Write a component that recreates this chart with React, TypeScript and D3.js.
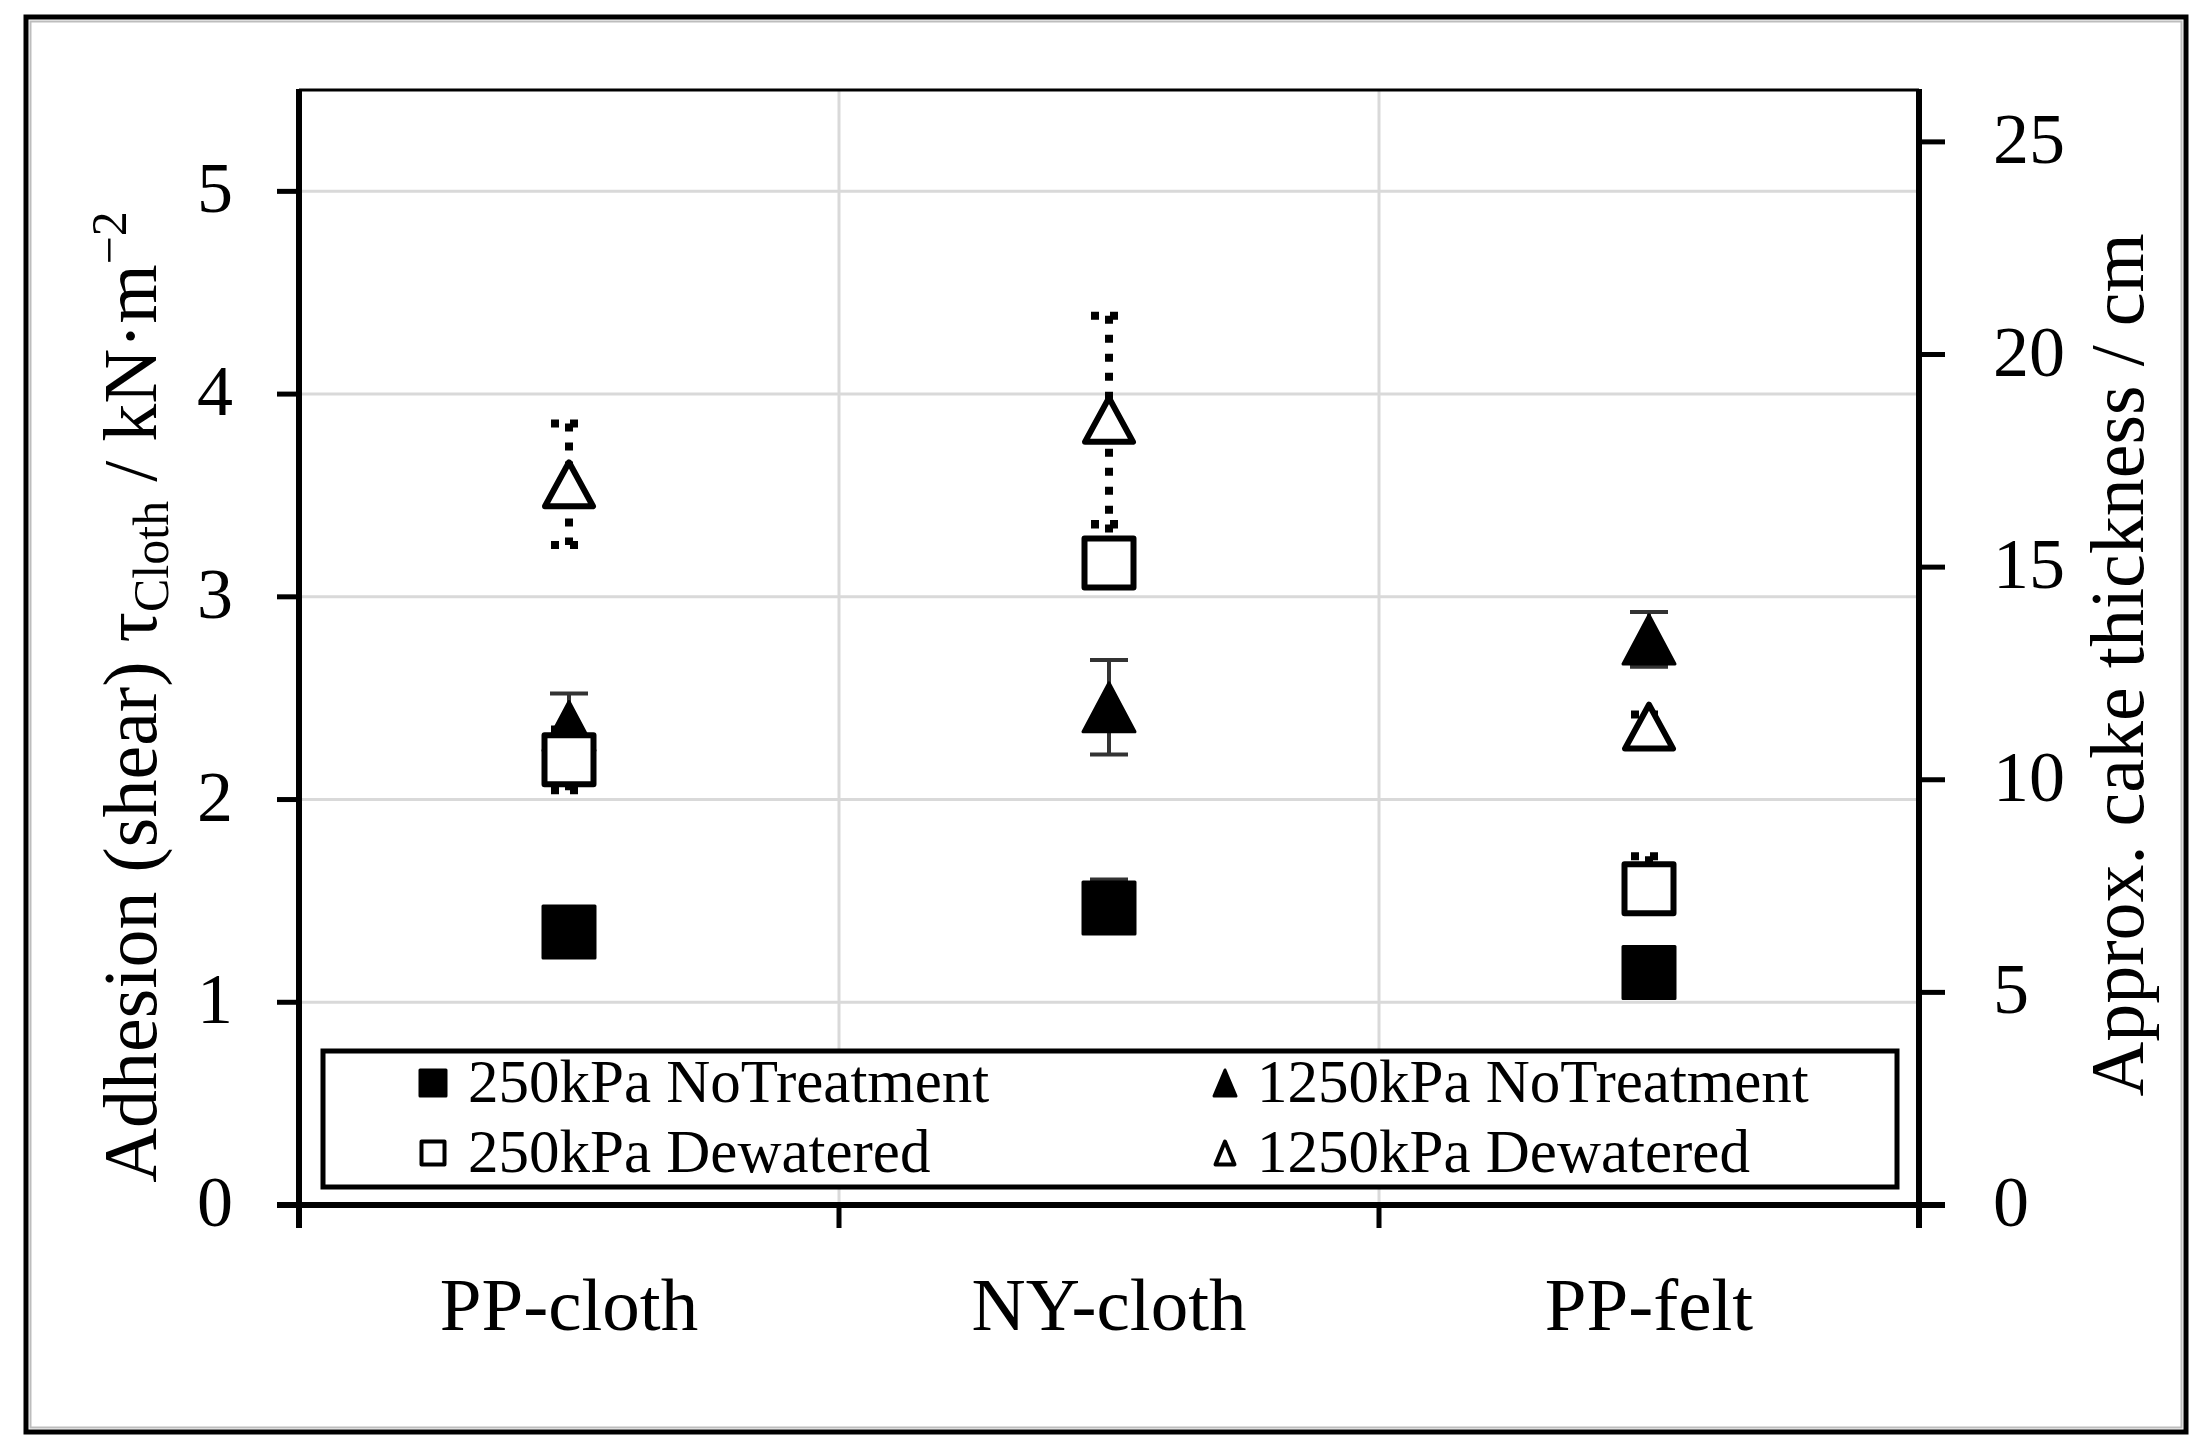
import React from 'react';
import * as d3 from 'd3';

const categories = ['PP-cloth', 'NY-cloth', 'PP-felt'];
const seriesNames = ['250kPa NoTreatment', '1250kPa NoTreatment', '250kPa Dewatered', '1250kPa Dewatered'];

const noTreat250 = [1.347, 1.465, 1.147];
const noTreat250ErrPlus = [0.08, 0.14, 0.06];
const noTreat250ErrMinus = [0.08, 0.08, 0.06];
const noTreat1250 = [2.363, 2.455, 2.79];
const noTreat1250ErrPlus = [0.16, 0.233, 0.135];
const noTreat1250ErrMinus = [0.16, 0.233, 0.135];
const dewatered250 = [2.196, 3.167, 1.56];
const dewatered250ErrPlus = [0.15, 0.19, 0.16];
const dewatered250ErrMinus = [0.15, 0.1, 0.1];
const dewatered1250 = [3.555, 3.873, 2.36];
const dewatered1250ErrPlus = [0.3, 0.514, 0.06];
const dewatered1250ErrMinus = [0.3, 0.514, 0.06];

const leftTicks = [0, 1, 2, 3, 4, 5];
const rightTicks = [0, 5, 10, 15, 20, 25];
const leftMax = 5.5;
const rightMax = 26.22;

const FONT = '"Liberation Serif", "Times New Roman", serif';

function squarePath(cx: number, cy: number, s: number) {
  const h = s / 2;
  return `M${cx - h},${cy - h}H${cx + h}V${cy + h}H${cx - h}Z`;
}
function trianglePath(cx: number, cy: number, w: number, h: number) {
  return `M${cx},${cy - h / 2}L${cx + w / 2},${cy + h / 2}L${cx - w / 2},${cy + h / 2}Z`;
}

export default function App() {
  const W = 2208, H = 1449;
  const left = 299, right = 1919, top = 90, bottom = 1205;
  const x = d3.scaleBand<string>().domain(categories).range([left, right]);
  const yL = d3.scaleLinear().domain([0, leftMax]).range([bottom, top]);
  const yR = d3.scaleLinear().domain([0, rightMax]).range([bottom, top]);
  const cx = (c: string) => (x(c) as number) + x.bandwidth() / 2;

  const series = [
    { name: seriesNames[0], values: noTreat250, ep: noTreat250ErrPlus, em: noTreat250ErrMinus, shape: 'square', filled: true, dotted: false },
    { name: seriesNames[1], values: noTreat1250, ep: noTreat1250ErrPlus, em: noTreat1250ErrMinus, shape: 'triangle', filled: true, dotted: false },
    { name: seriesNames[2], values: dewatered250, ep: dewatered250ErrPlus, em: dewatered250ErrMinus, shape: 'square', filled: false, dotted: true },
    { name: seriesNames[3], values: dewatered1250, ep: dewatered1250ErrPlus, em: dewatered1250ErrMinus, shape: 'triangle', filled: false, dotted: true },
  ];

  const marker = (shape: string, filled: boolean, px: number, py: number, big: boolean, key: string) => {
    if (shape === 'square') {
      const s = big ? (filled ? 52 : 49) : (filled ? 26 : 23);
      return (
        <path key={key} d={squarePath(px, py, s)} fill={filled ? '#000' : '#fff'} stroke="#000"
          strokeWidth={filled ? 3 : big ? 6 : 4} strokeLinejoin="round" />
      );
    }
    const w = big ? (filled ? 52 : 48) : (filled ? 22 : 19);
    const h = big ? (filled ? 49 : 44) : (filled ? 26 : 23);
    return (
      <path key={key} d={trianglePath(px, py, w, h)} fill={filled ? '#000' : '#fff'} stroke="#000"
        strokeWidth={filled ? 3 : big ? 6 : 4} strokeLinejoin="round" />
    );
  };

  const legendX = [433, 1225];
  const legendTextX = [468, 1257];
  const legendRowY = [1083, 1153];
  const legendOrder = [0, 1, 2, 3];

  return (
    <svg width={W} height={H} style={{ position: 'absolute', left: 0, top: 0, background: '#fff' }}
      fontFamily={FONT}>
      <rect x={0} y={0} width={W} height={H} fill="#fff" />
      {/* outer frame */}
      <rect x={26} y={17} width={2160} height={1415} fill="none" stroke="#000" strokeWidth={5} />
      <rect x={30.5} y={21.5} width={2151} height={1406} fill="none" stroke="#bdbdbd" strokeWidth={2} />

      {/* gridlines */}
      {leftTicks.filter(t => t > 0).map(t => (
        <line key={'hg' + t} x1={left} x2={right} y1={yL(t)} y2={yL(t)} stroke="#d9d9d9" strokeWidth={3} />
      ))}
      {categories.slice(1).map(c => (
        <line key={'vg' + c} x1={x(c) as number} x2={x(c) as number} y1={top} y2={bottom} stroke="#d9d9d9" strokeWidth={3} />
      ))}
      {/* plot area top border */}
      <line x1={left} x2={right} y1={top} y2={top} stroke="#000" strokeWidth={3} />

      {/* legend */}
      <rect x={323} y={1051} width={1574} height={136} fill="#fff" stroke="#000" strokeWidth={5} />
      {legendOrder.map(i => {
        const s = series[i];
        const col = i % 2, row = Math.floor(i / 2);
        return (
          <g key={'lg' + i}>
            {marker(s.shape, s.filled, legendX[col], legendRowY[row], false, 'lm' + i)}
            <text x={legendTextX[col]} y={legendRowY[row] + 19} fontSize={61} fill="#000">{s.name}</text>
          </g>
        );
      })}

      {/* axes */}
      <line x1={left} x2={left} y1={top - 1} y2={bottom + 23} stroke="#000" strokeWidth={6} />
      <line x1={right} x2={right} y1={top - 1} y2={bottom + 23} stroke="#000" strokeWidth={6} />
      <line x1={left - 22} x2={right + 26} y1={bottom} y2={bottom} stroke="#000" strokeWidth={6} />
      {leftTicks.map(t => (
        <g key={'lt' + t}>
          <line x1={left - 22} x2={left} y1={yL(t)} y2={yL(t)} stroke="#000" strokeWidth={5} />
          <text x={233} y={yL(t) + 21} textAnchor="end" fontSize={72} fill="#000">{t}</text>
        </g>
      ))}
      {rightTicks.map(t => (
        <g key={'rt' + t}>
          <line x1={right} x2={right + 26} y1={yR(t)} y2={yR(t)} stroke="#000" strokeWidth={5} />
          <text x={1993} y={yR(t) + 21} textAnchor="start" fontSize={72} fill="#000">{t}</text>
        </g>
      ))}
      {categories.map(c => (
        <line key={'ct' + c} x1={x(c) as number} x2={x(c) as number} y1={bottom} y2={bottom + 23} stroke="#000" strokeWidth={5} />
      ))}
      <line x1={right} x2={right} y1={bottom} y2={bottom + 23} stroke="#000" strokeWidth={5} />
      {categories.map(c => (
        <text key={'cl' + c} x={cx(c)} y={1330} textAnchor="middle" fontSize={75} fill="#000">{c}</text>
      ))}

      {/* axis titles */}
      <text transform={`translate(156,697) rotate(-90)`} textAnchor="middle" fontSize={76} fill="#000">
        Adhesion (shear) τ<tspan fontSize={50} dy={12}>Cloth</tspan><tspan dy={-12}> / kN·m</tspan><tspan fontSize={50} dy={-30}>−2</tspan>
      </text>
      <text transform={`translate(2143,665) rotate(-90)`} textAnchor="middle" fontSize={76} fill="#000">
        Approx. cake thickness / cm
      </text>

      {/* series */}
      {series.map((s, si) => (
        <g key={'s' + si}>
          {categories.map((c, ci) => {
            const px = cx(c);
            const v = s.values[ci];
            const y1 = yL(v + s.ep[ci]), y2 = yL(v - s.em[ci]);
            const capW = s.dotted ? 36 : 38;
            const common = s.dotted
              ? { stroke: '#000', strokeWidth: 8, strokeDasharray: '8 11' }
              : { stroke: '#333', strokeWidth: 4 };
            return (
              <g key={'p' + si + ci}>
                <line x1={px} x2={px} y1={y1} y2={y2} {...common} />
                <line x1={px - capW / 2} x2={px + capW / 2} y1={y1} y2={y1} {...common} />
                <line x1={px - capW / 2} x2={px + capW / 2} y1={y2} y2={y2} {...common} />
                {marker(s.shape, s.filled, px, yL(v), true, 'm' + si + ci)}
              </g>
            );
          })}
        </g>
      ))}
    </svg>
  );
}
